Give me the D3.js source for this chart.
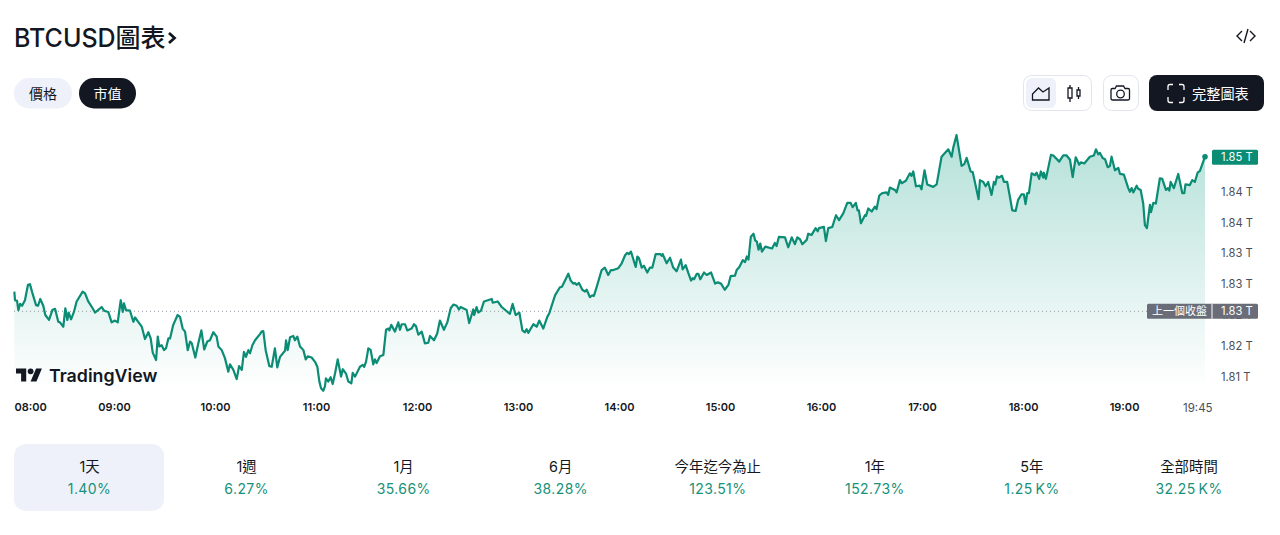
<!DOCTYPE html>
<html>
<head>
<meta charset="utf-8">
<title>BTCUSD圖表</title>
<script src="https://d3js.org/d3.v7.min.js"></script>
<style>
	html, body { margin: 0; padding: 0; background: #fff; overflow: hidden; }
	svg { display: block; }
	text { font-family: Inter, "Noto Sans CJK TC", sans-serif; fill: #131722; }
	.axis path, .axis line { display: none; }
</style>
</head>
<body>
<svg id="chart" width="1280" height="535"></svg>
<script>
// market cap trace, [minutes after 08:00, value in billions]
var capTrace = [
	[0.2,1828.7],[0.6,1827.3],[1.8,1827.2],[2.6,1825.7],[3.6,1826.7],[4.8,1826.4],[6.5,1827.3],[8.3,1829.8],[9.5,1829.9],[10.9,1828.5],
	[13.1,1826.5],[14.3,1826.4],[15.6,1827.5],[17.4,1826.4],[18.6,1824.9],[20.8,1824.1],[22.8,1825.7],[24.4,1825.9],[26.3,1823.8],[27.3,1823.7],
	[29.3,1823.0],[30.5,1826.0],[31.7,1824.1],[32.5,1825.3],[33.9,1824.2],[35.6,1825.4],[37.2,1827.1],[40.8,1828.7],[42.2,1828.4],[44.1,1827.1],
	[46.7,1826.0],[48.1,1825.3],[52.1,1826.2],[53.5,1825.6],[56,1825.4],[58,1823.7],[60,1824.0],[61.6,1823.7],[63.4,1827.3],[64.6,1825.4],
	[65.3,1826.8],[66.5,1825.7],[68.9,1825.6],[70.9,1823.8],[71.9,1824.5],[73.8,1823.8],[75.9,1823.0],[77.8,1821.0],[79.8,1822.1],[81.2,1821.1],
	[82.4,1818.8],[84.4,1817.6],[85.4,1821.4],[86.3,1819.8],[87.7,1820.0],[89.1,1819.2],[90.3,1819.5],[91.7,1821.1],[92.7,1821.1],[94.6,1823.3],
	[97.2,1824.9],[98.6,1824.6],[100.2,1822.7],[101.6,1822.2],[103.2,1819.2],[104.6,1820.6],[105.6,1820.3],[107.7,1818.0],[109.5,1820.3],[111.3,1822.4],
	[113,1819.3],[114.8,1820.6],[116.4,1820.8],[118.4,1822.1],[120.4,1821.4],[121.4,1819.8],[123.4,1819.2],[125.3,1817.9],[127.3,1815.7],[128.3,1816.9],
	[130.3,1816.0],[132.3,1814.5],[133.7,1816.6],[135.3,1816.0],[136.6,1818.9],[137.8,1818.1],[139.2,1819.2],[140.2,1818.7],[141.6,1820.0],[143.2,1820.8],
	[146.1,1821.8],[147.1,1822.2],[148.1,1822.3],[149.5,1819.2],[151.7,1816.6],[153.1,1816.5],[155,1819.5],[156.4,1816.4],[158,1818.1],[161,1819.1],
	[161.6,1820.8],[162.6,1819.2],[164,1821.3],[165.9,1821.5],[166.9,1820.8],[168.3,1821.4],[169.9,1819.8],[171.9,1819.2],[173.3,1817.7],[174.5,1818.2],
	[176.8,1818.0],[178.8,1817.3],[180.2,1816.5],[181.4,1814.1],[182.4,1813.0],[183.7,1812.6],[184.7,1813.3],[185.3,1814.6],[186.7,1814.1],[188.1,1814.8],
	[189.3,1813.7],[190.7,1815.4],[192.3,1817.7],[194.3,1814.9],[195.3,1816.1],[197.2,1815.4],[198.6,1814.1],[200.4,1813.8],[201.2,1815.5],[202.6,1814.9],
	[205.5,1816.5],[207.2,1816.8],[208,1816.5],[209.1,1817.3],[210.5,1819.5],[211.9,1819.2],[213.4,1816.9],[214.4,1817.7],[215.4,1817.1],[217.4,1818.2],
	[219.4,1818.4],[221,1822.5],[222.4,1822.7],[223,1822.4],[224.1,1823.3],[226.3,1822.2],[228.3,1823.7],[229.3,1822.5],[230.3,1823.4],[232.3,1823.4],
	[233.6,1822.4],[236.2,1822.7],[237.6,1823.4],[238.8,1823.1],[240.2,1821.7],[242.2,1822.2],[244.1,1820.3],[246.1,1820.4],[247.1,1821.5],[249.5,1820.8],
	[251.4,1821.9],[253,1824.0],[255.4,1822.5],[257.4,1823.7],[259.4,1826.0],[261,1826.6],[263,1826.4],[264.3,1825.8],[265.3,1826.2],[268.9,1825.7],
	[270.4,1823.6],[272.8,1825.8],[273.4,1824.9],[274.8,1826.2],[275.8,1825.3],[277.4,1825.6],[279.2,1827.1],[283.8,1827.5],[284.4,1826.9],[287.3,1827.1],
	[289.7,1826.2],[294.6,1825.1],[296.2,1826.7],[298,1824.9],[300.2,1825.3],[302,1822.4],[303.5,1822.1],[304.5,1822.6],[305.5,1822.0],[308.5,1823.4],
	[310.5,1823.0],[312,1824.0],[314.4,1822.7],[316.8,1824.6],[318,1825.2],[321.4,1828.1],[324.3,1829.4],[325.5,1829.5],[329.3,1831.6],[330.7,1830.5],
	[332.2,1830.0],[333.2,1830.1],[334.2,1829.8],[335.6,1830.1],[337.6,1829.0],[339.2,1828.7],[340.2,1829.0],[342.1,1827.8],[343.5,1828.1],[344.5,1828.0],
	[346.5,1829.8],[349.1,1832.2],[351,1832.6],[353,1831.4],[354.6,1832.2],[356,1832.2],[359,1832.5],[361,1833.3],[363,1834.6],[364.3,1835.0],
	[365.3,1834.8],[366.5,1835.2],[369.3,1832.7],[370.3,1834.4],[371.3,1834.1],[372.9,1832.6],[374.2,1832.9],[376.2,1831.8],[377.8,1832.6],[379.2,1832.6],
	[381.2,1834.8],[383.8,1834.8],[384.8,1834.5],[385.3,1834.8],[387.7,1833.3],[389.7,1834.2],[391.6,1832.6],[393.6,1832.0],[396.2,1833.9],[397.2,1832.3],
	[399,1833.0],[400.6,1831.7],[402.2,1830.5],[403.2,1830.9],[404,1830.7],[405.6,1831.6],[406.5,1831.6],[407.7,1830.7],[409.9,1831.8],[411.5,1831.4],
	[414.1,1831.8],[416.5,1830.0],[418.1,1830.2],[420,1830.0],[422.2,1829.0],[424.4,1829.8],[425.7,1831.2],[428.3,1831.3],[429.3,1832.2],[430.9,1832.7],
	[432.9,1833.8],[434.3,1833.5],[435.3,1834.4],[436.3,1833.9],[437.7,1837.6],[439.3,1838.1],[440.3,1837.0],[441.3,1836.8],[442.3,1835.5],[443.3,1836.5],
	[444.3,1835.2],[446.3,1836.0],[450.3,1835.7],[452,1836.6],[453,1836.1],[454.4,1837.6],[458,1837.5],[459.9,1835.9],[462,1837.5],[463.9,1836.4],
	[465.3,1837.5],[466.9,1837.2],[468.3,1836.4],[470.9,1837.1],[471.8,1838.1],[473.8,1837.9],[476.2,1839.0],[477.4,1838.5],[478.2,1839.0],[481.1,1839.2],
	[482.3,1836.9],[483.7,1839.0],[486.1,1839.2],[488.3,1841.1],[490.1,1840.3],[492.6,1841.4],[495,1843.1],[497,1843.1],[498.2,1842.4],[500.1,1843.1],
	[501.1,1841.9],[501.9,1841.9],[503.1,1839.8],[505.5,1841.1],[506.1,1841.0],[507.5,1842.2],[509.5,1841.7],[511.4,1842.5],[512.4,1842.1],[514,1844.3],
	[515.8,1844.7],[518.4,1844.8],[519.3,1844.4],[520.3,1845.6],[523.3,1845.2],[524.3,1844.8],[526.3,1846.8],[527.3,1846.3],[529.8,1846.7],[532.2,1847.9],
	[533.2,1847.5],[534.2,1848.2],[535.8,1845.8],[538.1,1845.9],[539.1,1845.3],[540.9,1848.4],[542.5,1846.1],[546.1,1845.7],[548.1,1846.1],[551,1850.6],
	[555,1851.8],[557,1850.6],[557.9,1852.0],[559.9,1854.1],[562.9,1849.1],[564.5,1849.4],[565.9,1850.4],[568.3,1848.2],[569.5,1848.1],[570.8,1846.5],
	[573,1843.7],[573.8,1846.8],[575.8,1846.5],[577.2,1845.8],[578.7,1846.5],[580.7,1844.4],[582.1,1846.5],[582.9,1846.1],[583.9,1847.4],[585.1,1847.2],
	[586.9,1847.5],[588.1,1846.5],[590,1846.5],[591.6,1844.1],[593,1841.9],[595,1841.8],[596.5,1843.6],[598.5,1844.5],[599.9,1844.5],[600.9,1842.9],
	[601.9,1844.7],[602.9,1844.7],[604.5,1847.9],[606.5,1847.6],[607.5,1848.0],[609,1847.0],[610,1848.2],[611.4,1847.2],[611.8,1848.0],[613,1847.0],
	[616,1850.9],[617.4,1850.8],[620.9,1849.8],[623.3,1850.8],[625.3,1850.8],[627.3,1850.1],[628.9,1847.3],[630.7,1850.5],[632.8,1849.3],[633.8,1849.7],
	[635.8,1849.5],[639.1,1850.6],[641.5,1850.8],[642.7,1851.8],[644.1,1851.0],[645.1,1851.2],[646.7,1850.4],[648.1,1850.2],[649.7,1848.9],[651,1849.1],
	[652,1850.6],[654,1848.4],[656,1848.8],[657,1847.8],[659.3,1847.7],[661.9,1845.5],[662.9,1844.9],[663.9,1845.5],[664.9,1844.8],[666.9,1845.9],
	[667.8,1845.4],[669.3,1845.2],[670.8,1843.0],[671.8,1839.5],[673,1839.0],[674.8,1842.8],[675.4,1841.6],[676.8,1843.1],[678.3,1843.0],[680.7,1847.1],
	[682.1,1847.0],[684.3,1845.2],[685.5,1845.5],[686.3,1845.1],[687.1,1846.5],[689,1845.5],[691.6,1847.8],[694,1844.7],[695.2,1844.7],[695.9,1846.1],
	[698.5,1846.0],[699.9,1846.8],[701.5,1846.5],[703.1,1848.0],[704.5,1848.3],[707.5,1850.6]
];
var prevClose = 1825.5;
var priceTicks = [1815, 1820, 1825, 1830, 1835, 1840, 1845];
var hourLabels = ["08:00", "09:00", "10:00", "11:00", "12:00", "13:00", "14:00", "15:00", "16:00", "17:00", "18:00", "19:00"];
var lastLabel = "19:45";
var periods = ["1天", "1週", "1月", "6月", "今年迄今為止", "1年", "5年", "全部時間"];
var changes = ["1.40%", "6.27%", "35.66%", "38.28%", "123.51%", "152.73%", "1.25\u2009K%", "32.25\u2009K%"];

var green = "#0b8c74", ink = "#131722", pale = "#eef1fa";
var svg = d3.select("#chart");
var parseTime = d3.timeParse("%H:%M");
var start = parseTime("08:00");
function toTime(m) { return new Date(+start + m * 60000); }

var x = d3.scaleTime().domain([start, toTime(707.5)]).range([14, 1205]);
var y = d3.scaleLinear().domain([1815, 1850]).range([376, 160.4]);
var baseY = 390;

// gradient under the line
var grad = svg.append("defs").append("linearGradient")
	.attr("id", "fade").attr("gradientUnits", "userSpaceOnUse")
	.attr("x1", 0).attr("x2", 0).attr("y1", y(1854)).attr("y2", baseY);
grad.append("stop").attr("offset", 0).attr("stop-color", "#089981").attr("stop-opacity", 0.3);
grad.append("stop").attr("offset", 1).attr("stop-color", "#089981").attr("stop-opacity", 0);

var area = d3.area().x(function(d) { return x(toTime(d[0])); }).y0(baseY).y1(function(d) { return y(d[1]); });
var line = d3.line().x(function(d) { return x(toTime(d[0])); }).y(function(d) { return y(d[1]); });

svg.append("path").datum(capTrace).attr("d", area).attr("fill", "url(#fade)");

// previous close
svg.append("line")
	.attr("x1", 14).attr("x2", 1147).attr("y1", y(prevClose)).attr("y2", y(prevClose))
	.attr("stroke", "#9598a1").attr("stroke-width", 1).attr("stroke-dasharray", "1 3");

svg.append("path").datum(capTrace).attr("d", line)
	.attr("fill", "none").attr("stroke", green).attr("stroke-width", 2.2).attr("stroke-linejoin", "round");

var last = capTrace[capTrace.length - 1];
svg.append("circle").attr("cx", x(toTime(last[0]))).attr("cy", y(last[1])).attr("r", 2.8).attr("fill", green);

// axes
var yAxis = d3.axisRight(y).tickValues(priceTicks).tickSize(0).tickPadding(16)
	.tickFormat(function(d) { return (Math.floor(d / 10) / 100).toFixed(2) + " T"; });
svg.append("g").attr("class", "axis").attr("transform", "translate(1205,0.6)").call(yAxis)
	.selectAll("text").style("font-size", "11.2px").style("font-family", "Inter").style("fill", "#4a4e58");

var xAxis = d3.axisBottom(x).tickValues(hourLabels.map(parseTime)).tickSize(0).tickPadding(0)
	.tickFormat(d3.timeFormat("%H:%M"));
var xg = svg.append("g").attr("class", "axis").attr("transform", "translate(-1,403.5)").call(xAxis);
xg.selectAll("text").style("font-size", "11px").style("font-weight", 600).style("font-family", "Inter")
	.attr("dy", "0.71em").attr("y", 0)
	.filter(function(d) { return +d === +start; }).attr("text-anchor", "start").attr("dx", 1);
svg.append("text").attr("x", x(parseTime(lastLabel)) - 3).attr("y", 411.5).attr("text-anchor", "middle")
	.style("font-size", "11.5px").style("fill", "#4a4e58").text(lastLabel);

// value badges
function badge(x0, x1, yc, fill) {
	svg.append("rect").attr("x", x0).attr("y", yc - 7.5).attr("width", x1 - x0).attr("height", 15).attr("rx", 1.5).attr("fill", fill);
}
var closeY = y(prevClose), nowY = y(last[1]) + 0.5;
badge(1147, 1258, closeY, "#6a6d78");
svg.append("line").attr("x1", 1212).attr("x2", 1212).attr("y1", closeY - 7.5).attr("y2", closeY + 7.5).attr("stroke", "#fff");
svg.append("text").attr("x", 1179.5).attr("y", closeY + 4).attr("text-anchor", "middle")
	.style("font-size", "11px").style("fill", "#fff").text("上一個收盤");
svg.append("text").attr("x", 1221).attr("y", closeY + 4)
	.style("font-size", "11.2px").style("fill", "#fff").text(d3.format(".2f")(prevClose / 1000) + " T");
badge(1212, 1258, nowY, green);
svg.append("text").attr("x", 1221).attr("y", nowY + 4)
	.style("font-size", "11.2px").style("fill", "#fff").text((last[1] / 1000).toFixed(2) + " T");

// logo
var logo = svg.append("g").attr("transform", "translate(16,365.5) scale(0.73)").attr("fill", ink);
logo.append("path").attr("d", "M14 22H7V11H0V4h14v18zM28 22h-8l7.5-18h8L28 22z");
logo.append("circle").attr("cx", 20).attr("cy", 8).attr("r", 4);
svg.append("text").attr("x", 49).attr("y", 382).style("font-size", "17.8px").style("font-weight", 600).text("TradingView");

// header
svg.append("text").attr("x", 14).attr("y", 46.5).style("font-size", "25px").style("font-weight", 500).text("BTCUSD圖表");
svg.append("path").attr("d", "M169 33l5.500 5-5.500 5").attr("fill", "none").attr("stroke", ink).attr("stroke-width", 2.8);
svg.append("path").attr("d", "M1242 31l-5 5 5 5M1250 31l5 5-5 5M1248 29l-4 14").attr("fill", "none").attr("stroke", ink).attr("stroke-width", 1.4);

// pills
function pill(x0, w, label, fill, color) {
	svg.append("rect").attr("x", x0).attr("y", 78).attr("width", w).attr("height", 30.500).attr("rx", 15).attr("fill", fill);
	svg.append("text").attr("x", x0 + w / 2).attr("y", 98.500).attr("text-anchor", "middle")
		.style("font-size", "14px").style("fill", color).text(label);
}
pill(14, 58, "價格", pale, ink);
pill(79, 57, "市值", ink, "#fff");

// toolbar
function box(x0, y0, w, h, r, fill, stroke) {
	svg.append("rect").attr("x", x0).attr("y", y0).attr("width", w).attr("height", h).attr("rx", r)
		.attr("fill", fill).attr("stroke", stroke);
}
box(1023.5, 75.5, 68, 35, 8, "#fff", "#e3e5ec");
box(1026, 78, 30, 30, 6, pale, "none");
box(1103.5, 75.5, 35, 35, 8, "#fff", "#e3e5ec");
box(1149, 75, 115, 36, 8, ink, "none");
var icon = { fill: "none", stroke: ink, "stroke-width": 1.3 };
function iconPath(d, stroke) {
	svg.append("path").attr("d", d).attr("fill", icon.fill).attr("stroke", stroke || icon.stroke).attr("stroke-width", icon["stroke-width"]);
}
iconPath("M1032.5 100h16.5v-12l-6 4-4.500-4-6 6z");
iconPath("M1068 88h4v10h-4zM1070 85v3M1070 98v4M1077 90h3v6h-3zM1078.500 87v3M1078.500 96v3");
iconPath("M1112 88.500h3l1.500-2.500h7l1.500 2.500h3a1.500 1.500 0 0 1 1.500 1.500v8.500a1.500 1.500 0 0 1-1.500 1.500h-15.500a1.500 1.500 0 0 1-1.500-1.500v-8.500a1.500 1.500 0 0 1 1.500-1.500z");
svg.append("circle").attr("cx", 1120.5).attr("cy", 94).attr("r", 3.8).attr("fill", "none").attr("stroke", ink).attr("stroke-width", 1.3);
iconPath("M1168 90v-3.500a2 2 0 0 1 2-2h3M1179 84.500h3a2 2 0 0 1 2 2v3.500M1184 97v3.500a2 2 0 0 1-2 2h-3M1173 102.500h-3a2 2 0 0 1-2-2v-3.500", "#fff");
svg.append("text").attr("x", 1192).attr("y", 98.500).style("font-size", "14.2px").style("fill", "#fff").text("完整圖表");

// range tabs
var tabX = d3.scalePoint().domain(periods).range([89.5, 1189]);
svg.append("rect").attr("x", 14).attr("y", 444).attr("width", 150).attr("height", 67).attr("rx", 12).attr("fill", pale);
svg.selectAll(".period").data(periods).enter().append("text").attr("class", "period")
	.attr("x", function(d) { return tabX(d); }).attr("y", 472).attr("text-anchor", "middle")
	.style("font-size", "14.4px").text(function(d) { return d; });
svg.selectAll(".change").data(changes).enter().append("text").attr("class", "change")
	.attr("x", function(d, i) { return tabX(periods[i]); }).attr("y", 494).attr("text-anchor", "middle")
	.style("font-size", "14px").style("letter-spacing", "0.4px").style("fill", "#16917a").text(function(d) { return d; });
</script>
</body>
</html>
